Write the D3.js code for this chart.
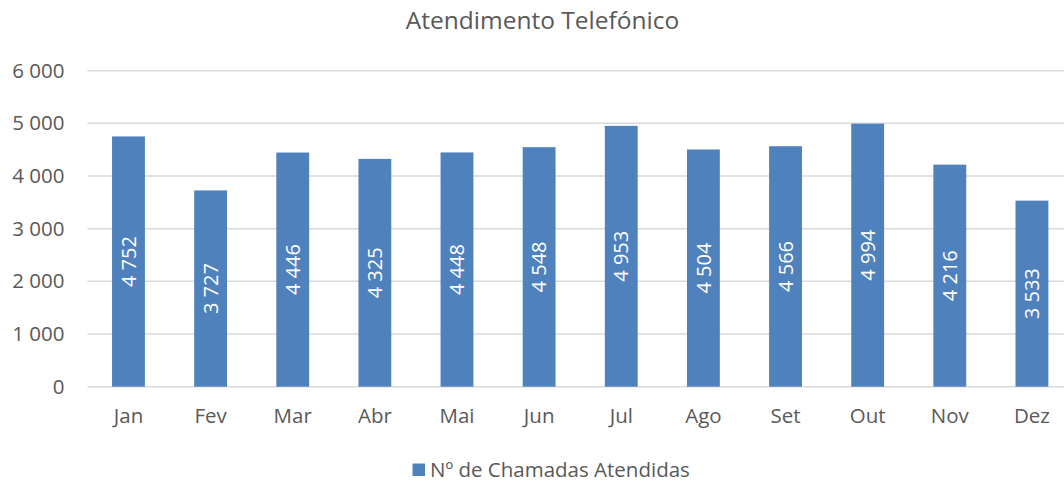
<!DOCTYPE html>
<html>
<head>
<meta charset="utf-8">
<script src="https://cdn.jsdelivr.net/npm/d3@7"></script>
<style>
  html, body { margin: 0; padding: 0; background: #fff; overflow: hidden; }
  svg { display: block; font-family: "Open Sans", "Noto Sans", sans-serif; }
</style>
</head>
<body>
<div id="chart"></div>
<script>
const months = ['Jan', 'Fev', 'Mar', 'Abr', 'Mai', 'Jun', 'Jul', 'Ago', 'Set', 'Out', 'Nov', 'Dez'];
const calls = [4752, 3727, 4446, 4325, 4448, 4548, 4953, 4504, 4566, 4994, 4216, 3533];
const yTicks = [0, 1000, 2000, 3000, 4000, 5000, 6000];
const seriesName = 'Nº de Chamadas Atendidas';
const chartTitle = 'Atendimento Telefónico';

const width = 1064, height = 484;
const margins = { top: 70.7, right: -9, bottom: 97.3, left: 87.4 };
const innerW = width - margins.left - margins.right;
const innerH = height - margins.top - margins.bottom;
const barColor = '#4f81bd';
const textColor = '#595959';
const labelSize = '20.5px';

// format like "4 752"
const fmt = v => d3.format(',')(v).replace(/,/g, ' ');

const svg = d3.select('#chart')
  .append('svg')
  .attr('width', width)
  .attr('height', height);

svg.append('text')
  .attr('x', 542.5)
  .attr('y', 29)
  .attr('text-anchor', 'middle')
  .style('font-size', '24.5px')
  .style('fill', textColor)
  .text(chartTitle);

const g = svg.append('g')
  .attr('transform', `translate(${margins.left},${margins.top})`);

const x = d3.scaleBand()
  .domain(months)
  .range([0, innerW])
  .paddingInner(0.6)
  .paddingOuter(0.3);

const y = d3.scaleLinear()
  .domain([0, 6000])
  .range([innerH, 0]);

// gridlines
g.append('g')
  .selectAll('line')
  .data(yTicks)
  .enter()
  .append('line')
  .attr('x1', 0)
  .attr('x2', innerW)
  .attr('y1', d => y(d))
  .attr('y2', d => y(d))
  .style('stroke', '#d9d9d9')
  .style('stroke-width', '1.5px');

// y axis labels
const yAxis = g.append('g')
  .call(d3.axisLeft(y).tickValues(yTicks).tickFormat(fmt).tickSize(0).tickPadding(23));
yAxis.select('.domain').remove();
yAxis.selectAll('.tick text')
  .style('font-size', labelSize)
  .style('fill', textColor)
  .style('font-family', '"Open Sans", sans-serif');

// x axis labels
const xAxis = g.append('g')
  .attr('transform', `translate(0, ${innerH})`)
  .call(d3.axisBottom(x).tickSize(0).tickPadding(22));
xAxis.select('.domain').remove();
xAxis.selectAll('.tick text')
  .style('font-size', labelSize)
  .style('fill', textColor)
  .style('font-family', '"Open Sans", sans-serif');

// bars
g.selectAll('.bar')
  .data(calls)
  .enter()
  .append('rect')
  .attr('class', 'bar')
  .attr('x', (d, i) => x(months[i]))
  .attr('y', d => y(d))
  .attr('width', x.bandwidth())
  .attr('height', d => innerH - y(d))
  .style('fill', barColor);

// value labels inside bars, rotated
g.selectAll('.val')
  .data(calls)
  .enter()
  .append('text')
  .attr('class', 'val')
  .attr('transform', (d, i) => {
    const cx = x(months[i]) + x.bandwidth() / 2;
    const cy = (y(d) + innerH) / 2;
    return `translate(${cx},${cy}) rotate(-90)`;
  })
  .attr('text-anchor', 'middle')
  .attr('dy', '0.36em')
  .style('font-size', '20px')
  .style('fill', '#fff')
  .text(d => fmt(d));

// legend
const legend = svg.append('g')
  .attr('transform', 'translate(412.5, 463.5)');
legend.append('rect')
  .attr('width', 12.5)
  .attr('height', 12.5)
  .style('fill', barColor);
legend.append('text')
  .attr('x', 17.5)
  .attr('y', 13.2)
  .style('font-size', labelSize)
  .style('fill', textColor)
  .text(seriesName);
</script>
</body>
</html>
